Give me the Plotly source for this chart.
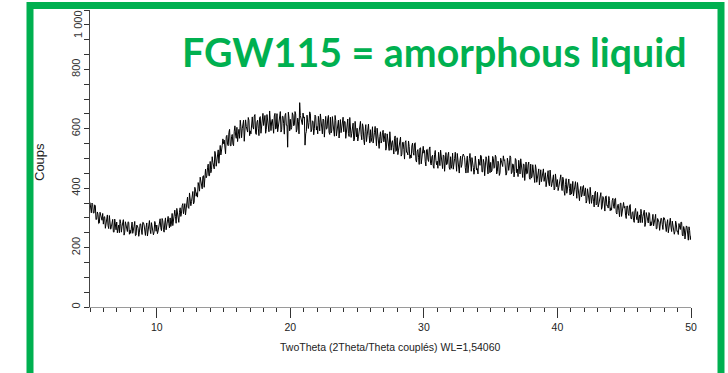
import plotly.graph_objects as go

# --- data -------------------------------------------------------------
# counts read at 2theta = 5.0, 5.1, ... 50.0
theta_start = 5.0
theta_step = 0.1
counts_grid = [
    352, 317, 345, 316, 340, 296, 312, 283, 311, 292,
    279, 304, 284, 310, 264, 288, 270, 295, 252, 284,
    286, 264, 250, 281, 272, 294, 252, 272, 254, 285,
    259, 285, 248, 272, 240, 276, 265, 252, 279, 244,
    284, 251, 268, 239, 279, 261, 284, 258, 253, 278,
    276, 256, 291, 267, 298, 260, 283, 260, 294, 281,
    300, 283, 274, 309, 305, 332, 294, 319, 305, 341,
    314, 348, 336, 370, 332, 365, 355, 389, 353, 394,
    385, 419, 390, 422, 398, 442, 439, 435, 469, 442,
    490, 463, 487, 465, 512, 500, 529, 510, 512, 544,
    550, 528, 573, 547, 587, 544, 574, 549, 592, 579,
    605, 582, 568, 607, 600, 629, 581, 608, 589, 629,
    593, 629, 606, 643, 586, 622, 602, 638, 585, 630,
    611, 645, 598, 631, 590, 637, 623, 608, 643, 599,
    651, 606, 629, 589, 642, 617, 645, 612, 538, 636,
    632, 604, 646, 613, 650, 598, 625, 688, 635, 614,
    636, 545, 591, 631, 621, 651, 596, 624, 600, 641,
    608, 642, 593, 626, 583, 630, 615, 599, 633, 588,
    639, 593, 616, 575, 628, 602, 629, 596, 587, 619,
    590, 624, 599, 633, 574, 607, 585, 619, 563, 606,
    602, 573, 615, 580, 617, 564, 590, 557, 598, 577,
    597, 570, 552, 588, 577, 602, 551, 574, 552, 588,
    556, 585, 539, 568, 527, 569, 553, 537, 568, 524,
    570, 528, 546, 508, 554, 530, 555, 521, 512, 540,
    512, 542, 520, 550, 495, 525, 504, 535, 482, 522,
    518, 490, 529, 498, 532, 483, 506, 475, 513, 494,
    491, 521, 476, 506, 466, 509, 494, 479, 511, 468,
    506, 480, 464, 500, 491, 517, 467, 492, 470, 508,
    509, 469, 488, 452, 499, 476, 503, 470, 463, 492,
    466, 498, 477, 508, 455, 486, 467, 499, 448, 489,
    487, 460, 500, 470, 505, 457, 482, 452, 491, 473,
    493, 467, 451, 487, 478, 504, 454, 479, 457, 495,
    464, 494, 448, 477, 436, 479, 463, 448, 478, 435,
    481, 439, 457, 419, 465, 440, 465, 431, 422, 450,
    423, 452, 430, 459, 408, 436, 416, 445, 397, 433,
    429, 403, 437, 407, 437, 391, 412, 383, 417, 399,
    415, 390, 374, 406, 395, 419, 371, 393, 371, 404,
    374, 401, 358, 385, 348, 385, 371, 356, 385, 344,
    386, 347, 365, 329, 372, 350, 372, 341, 333, 359,
    334, 359, 339, 364, 318, 342, 324, 349, 305, 337,
    333, 309, 340, 314, 341, 299, 318, 291, 323, 306,
    321, 299, 284, 314, 304, 326, 283, 303, 283, 314,
    287, 312, 273, 297, 263, 298, 286, 272, 298, 261,
    300, 265, 281, 250, 289, 269, 289, 262, 255, 279,
    256, 281, 261, 285, 239, 263, 245, 270, 225, 257,
    240,
]
# counts read at the half steps 2theta = 5.05, 5.15, ... 49.95
counts_half = [
    317, 350, 317, 344, 294, 320, 281, 319, 294, 315,
    303, 265, 304, 274, 308, 262, 285, 253, 296, 260,
    250, 276, 294, 252, 282, 242, 287, 260, 287, 245,
    248, 286, 257, 288, 242, 273, 238, 280, 259, 285,
    276, 241, 283, 254, 291, 247, 273, 243, 288, 255,
    247, 276, 297, 257, 290, 252, 300, 276, 305, 266,
    271, 315, 288, 326, 282, 318, 285, 334, 316, 348,
    344, 310, 363, 336, 384, 341, 375, 347, 403, 373,
    370, 407, 437, 398, 440, 403, 464, 442, 481, 442,
    452, 506, 477, 524, 474, 521, 484, 544, 525, 566,
    562, 516, 578, 543, 598, 542, 581, 543, 610, 568,
    557, 598, 629, 570, 617, 558, 630, 592, 638, 577,
    583, 640, 599, 648, 581, 629, 577, 641, 611, 652,
    640, 585, 648, 604, 660, 594, 632, 585, 652, 603,
    590, 629, 658, 597, 642, 582, 652, 612, 656, 593,
    598, 654, 610, 658, 589, 636, 583, 645, 614, 653,
    640, 583, 646, 601, 657, 590, 627, 580, 646, 596,
    583, 621, 650, 588, 633, 572, 642, 601, 645, 581,
    586, 641, 597, 645, 576, 623, 569, 631, 600, 639,
    625, 568, 630, 584, 638, 571, 607, 559, 625, 573,
    559, 597, 625, 563, 607, 546, 614, 573, 616, 552,
    557, 607, 565, 608, 543, 584, 534, 590, 561, 595,
    581, 528, 583, 542, 590, 528, 560, 515, 576, 527,
    513, 548, 572, 514, 555, 498, 560, 521, 559, 500,
    502, 552, 511, 553, 488, 530, 480, 536, 506, 541,
    527, 475, 531, 490, 539, 478, 511, 467, 527, 479,
    467, 503, 528, 471, 512, 457, 520, 482, 521, 463,
    467, 518, 477, 521, 457, 500, 451, 508, 480, 515,
    503, 451, 508, 467, 517, 457, 490, 447, 508, 461,
    448, 485, 511, 455, 497, 442, 506, 469, 509, 452,
    455, 507, 467, 511, 448, 491, 443, 501, 473, 509,
    496, 444, 501, 460, 509, 449, 482, 438, 500, 452,
    439, 475, 499, 442, 482, 426, 488, 450, 488, 430,
    434, 479, 441, 479, 420, 457, 411, 462, 434, 465,
    452, 405, 455, 417, 461, 405, 434, 394, 448, 405,
    392, 423, 445, 392, 428, 376, 432, 397, 431, 377,
    380, 423, 386, 422, 366, 401, 358, 406, 379, 409,
    396, 350, 398, 362, 403, 349, 377, 337, 390, 348,
    337, 364, 385, 337, 369, 323, 374, 342, 372, 324,
    326, 366, 332, 366, 313, 346, 304, 350, 324, 352,
    339, 298, 340, 308, 345, 296, 321, 285, 332, 294,
    283, 310, 329, 284, 314, 271, 318, 289, 318, 273,
    275, 312, 281, 312, 264, 294, 258, 299, 277, 301,
    291, 254, 294, 264, 299, 254, 277, 245, 289, 254,
    244, 269, 286, 242, 271, 229, 273, 245, 270, 227,
]

y_tick_values = [0, 200, 400, 600, 800, 1000]
y_tick_labels = ["0", "200", "400", "600", "800", ""]
top_y_label = "1 000"

title_text = "FGW115 = amorphous liquid"
x_title = "TwoTheta (2Theta/Theta couplés) WL=1,54060"
y_title = "Coups"

# merge the two sampled series in 2theta order
two_theta, counts = [], []
for i, c in enumerate(counts_grid):
    two_theta.append(round(theta_start + i * theta_step, 3))
    counts.append(c)
    if i < len(counts_half):
        two_theta.append(round(theta_start + (i + 0.5) * theta_step, 3))
        counts.append(counts_half[i])

# --- style ------------------------------------------------------------
GREEN = "#00B050"
REG = "Liberation Sans, Arial, sans-serif"

W, H = 728, 373
L, R, T, B = 90, 37, 10, 66
pw, ph = W - L - R, H - T - B


def px2x(px):
    return (px - L) / pw


def px2y(py):
    return (H - B - py) / ph


fig = go.Figure()
fig.add_trace(go.Scatter(
    x=two_theta, y=counts, mode="lines",
    line=dict(color="#000000", width=1),
    hoverinfo="skip", showlegend=False,
))

fig.update_layout(
    width=W, height=H,
    margin=dict(l=L, r=R, t=T, b=B, pad=0),
    paper_bgcolor="white", plot_bgcolor="white",
    showlegend=False,
    xaxis=dict(
        range=[5, 50], showgrid=False, zeroline=False,
        showline=True, linecolor="#9a9a9a", linewidth=1,
        tickmode="linear", tick0=10, dtick=10,
        ticks="outside", ticklen=10, tickcolor="#333", tickwidth=1,
        tickfont=dict(family=REG, size=10.5, color="#222"),
        minor=dict(ticks="outside", tickmode="linear", tick0=5, dtick=1,
                   ticklen=4, tickcolor="#333", tickwidth=1),
        fixedrange=True,
    ),
    xaxis2=dict(
        range=[5, 50], overlaying="x", anchor="y", side="bottom",
        showgrid=False, zeroline=False, showline=False,
        tickmode="linear", tick0=5, dtick=10,
        ticks="outside", ticklen=6, tickcolor="#333", tickwidth=1,
        showticklabels=False,
    ),
    yaxis=dict(
        range=[0, 1000], showgrid=False, zeroline=False,
        showline=True, linecolor="#444", linewidth=1,
        tickmode="array", tickvals=y_tick_values, ticktext=y_tick_labels,
        tickangle=-90,
        ticks="outside", ticklen=5, tickcolor="#333", tickwidth=1,
        tickfont=dict(family=REG, size=11, color="#333"),
        minor=dict(ticks="outside", tickmode="linear", tick0=0, dtick=50,
                   ticklen=5, tickcolor="#333", tickwidth=1),
        fixedrange=True,
    ),
    shapes=[dict(
        type="rect", xref="paper", yref="paper",
        x0=px2x(30), x1=px2x(721), y0=px2y(460), y1=px2y(5.5),
        line=dict(color=GREEN, width=7), fillcolor="rgba(0,0,0,0)",
        layer="above",
    )],
    annotations=[
        dict(text=title_text, xref="paper", yref="paper",
             x=px2x(434.5), y=px2y(51.5), xanchor="center", yanchor="middle",
             showarrow=False,
             font=dict(family="Lato, Open Sans, sans-serif", size=39.3,
                       color=GREEN, weight="bold")),
        dict(text=x_title, xref="paper", yref="paper",
             x=px2x(390), y=px2y(347), xanchor="center", yanchor="middle",
             showarrow=False,
             font=dict(family=REG, size=10.5, color="#222")),
        dict(text=y_title, xref="paper", yref="paper",
             x=px2x(39), y=px2y(162), xanchor="center", yanchor="middle",
             textangle=-90, showarrow=False,
             font=dict(family=REG, size=13, color="#222")),
        dict(text=top_y_label, xref="paper", yref="paper",
             x=px2x(78), y=px2y(24), xanchor="center", yanchor="middle",
             textangle=-90, showarrow=False,
             font=dict(family=REG, size=11, color="#333")),
    ],
)

fig.write_html("out.html", config=dict(displayModeBar=False, staticPlot=True))
